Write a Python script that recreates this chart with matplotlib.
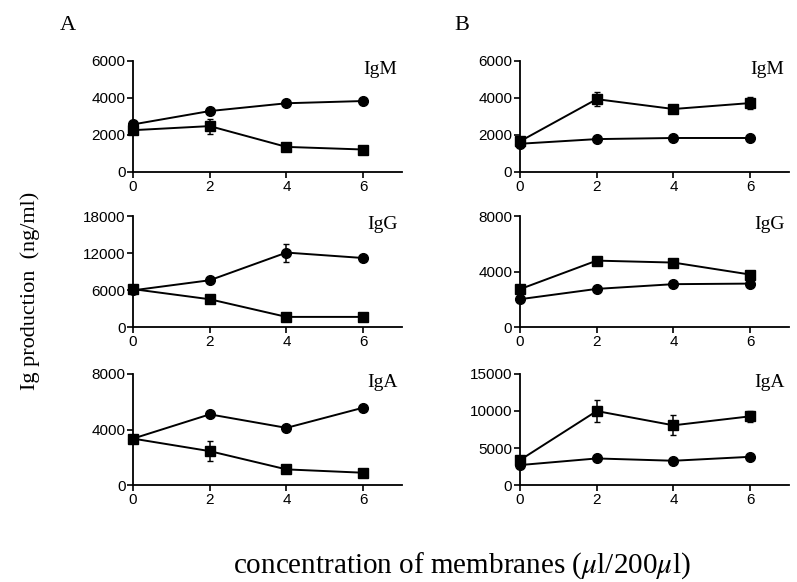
import matplotlib
matplotlib.use("Agg")
import matplotlib.pyplot as plt

conc = [0, 2, 4, 6]

# panel A
a_igm_circ = [2560, 3280, 3700, 3820]
a_igm_sq = [2250, 2470, 1350, 1210]
a_igm_sq_err = [0, 400, 0, 0]
a_igg_circ = [6000, 7630, 12100, 11220]
a_igg_circ_err = [0, 0, 1450, 0]
a_igg_sq = [6200, 4560, 1710, 1710]
a_iga_circ = [3350, 5090, 4120, 5570]
a_iga_sq = [3350, 2450, 1140, 900]
a_iga_sq_err = [0, 740, 0, 0]

# panel B
b_igm_sq = [1650, 3920, 3390, 3710]
b_igm_sq_err = [0, 380, 0, 300]
b_igm_circ = [1520, 1770, 1830, 1830]
b_igg_sq = [2750, 4800, 4660, 3800]
b_igg_circ = [2030, 2770, 3110, 3150]
b_iga_sq = [3390, 9990, 8070, 9280]
b_iga_sq_err = [0, 1430, 1340, 700]
b_iga_circ = [2720, 3610, 3300, 3830]

panels = [
    # (col, row, label, ymax, yticks, circ, circ_err, sq, sq_err)
    (0, 0, "IgM", 6000, [0, 2000, 4000, 6000], a_igm_circ, None, a_igm_sq, a_igm_sq_err),
    (0, 1, "IgG", 18000, [0, 6000, 12000, 18000], a_igg_circ, a_igg_circ_err, a_igg_sq, None),
    (0, 2, "IgA", 8000, [0, 4000, 8000], a_iga_circ, None, a_iga_sq, a_iga_sq_err),
    (1, 0, "IgM", 6000, [0, 2000, 4000, 6000], b_igm_circ, None, b_igm_sq, b_igm_sq_err),
    (1, 1, "IgG", 8000, [0, 4000, 8000], b_igg_circ, None, b_igg_sq, None),
    (1, 2, "IgA", 15000, [0, 5000, 10000, 15000], b_iga_circ, None, b_iga_sq, b_iga_sq_err),
]

serif = "Liberation Serif"
sans = "Liberation Sans"
plt.rcParams["mathtext.fontset"] = "stix"

fig = plt.figure(figsize=(7.97, 5.82), dpi=100)

lefts = [0.1669, 0.6524]
width = 0.337
bottoms = [0.7045, 0.4373, 0.1662]
height = 0.1915

for col, row, name, ymax, yticks, circ, circ_err, sq, sq_err in panels:
    ax = fig.add_axes([lefts[col], bottoms[row], width, height])
    ax.errorbar(conc, circ, yerr=circ_err, color="black", marker="o", ms=7,
                lw=1.4, capsize=2.5, elinewidth=1.1, clip_on=False, zorder=3)
    ax.errorbar(conc, sq, yerr=sq_err, color="black", marker="s", ms=7,
                lw=1.4, capsize=2.5, elinewidth=1.1, clip_on=False, zorder=3)
    ax.set_xlim(0, 7)
    ax.set_ylim(0, ymax)
    ax.set_xticks([0, 2, 4, 6])
    ax.set_yticks(yticks)
    for s in ["top", "right"]:
        ax.spines[s].set_visible(False)
    for s in ["left", "bottom"]:
        ax.spines[s].set_linewidth(1.3)
    ax.tick_params(direction="out", length=4, width=1.2, labelsize=11, pad=1.5)
    for lab in ax.get_xticklabels() + ax.get_yticklabels():
        lab.set_fontfamily(sans)
    ax.text(0.985, 0.92, name, transform=ax.transAxes, ha="right", va="center",
            fontsize=14, fontfamily=serif)

fig.text(0.085, 0.957, "A", fontsize=16, fontfamily=serif, ha="center", va="center")
fig.text(0.58, 0.957, "B", fontsize=16, fontfamily=serif, ha="center", va="center")
fig.text(0.038, 0.5, "Ig production  (ng/ml)", rotation=90, fontsize=16,
         fontfamily=serif, ha="center", va="center")
fig.text(0.58, 0.028, r"concentration of membranes ($\mu$l/200$\mu$l)", fontsize=21,
         fontfamily=serif, ha="center", va="center")

fig.savefig("out.png", dpi=100)
